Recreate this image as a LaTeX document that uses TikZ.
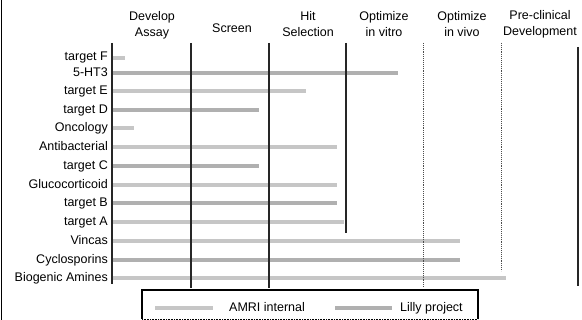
\documentclass[tikz,border=0pt]{standalone}
\usepackage{fontspec}
\setmainfont{Liberation Sans}
\tikzset{
  lbl/.style={anchor=east, inner sep=0pt, text height=9pt, text depth=2.5pt,
    font=\fontsize{12.5}{14}\selectfont},
  head/.style={align=center, inner sep=0pt, font=\fontsize{12.5}{16}\selectfont},
  amri/.style={line width=4.5pt, gray!45},
  lilly/.style={line width=4.5pt, gray!62},
  phase/.style={line width=1.1pt, black!85},
  soft/.style={line width=0.9pt, black!70, densely dotted}
}
\begin{document}
\begin{tikzpicture}[x=1pt, y=-1pt]
  \useasboundingbox (0, 0) rectangle (582, 320);
  \draw[line width=0.8pt] (1, 0) -- (1, 320);

  % phase headings
  \node[head] (hAssay)  at (152, 25) {Develop\\Assay};
  \node[head] (hScreen) at (232, 28) {Screen};
  \node[head] (hHit)    at (308, 24) {Hit\\Selection};
  \node[head] (hVitro)  at (384, 24) {Optimize\\in vitro};
  \node[head] (hVivo)   at (462, 24) {Optimize\\in vivo};
  \node[head] (hPre)    at (540, 24) {Pre-clinical\\Development};

  % programmes
  \node[lbl] (tF)   at (108, 57)  {target F};
  \node[lbl] (tHT)  at (108, 73)  {5-HT3};
  \node[lbl] (tE)   at (108, 91)  {target E};
  \node[lbl] (tD)   at (108, 110) {target D};
  \node[lbl] (tOnc) at (108, 128) {Oncology};
  \node[lbl] (tAb)  at (108, 147) {Antibacterial};
  \node[lbl] (tC)   at (108, 166) {target C};
  \node[lbl] (tGl)  at (108, 185) {Glucocorticoid};
  \node[lbl] (tB)   at (108, 203) {target B};
  \node[lbl] (tA)   at (108, 222) {target A};
  \node[lbl] (tVin) at (108, 241) {Vincas};
  \node[lbl] (tCy)  at (108, 260) {Cyclosporins};
  \node[lbl] (tBio) at (108, 278) {Biogenic Amines};

  \draw[amri]  (112, 58)  -- (125, 58);
  \draw[lilly] (112, 73)  -- (398, 73);
  \draw[amri]  (112, 91)  -- (306, 91);
  \draw[lilly] (112, 110) -- (259, 110);
  \draw[amri]  (112, 128) -- (134, 128);
  \draw[amri]  (112, 147) -- (337, 147);
  \draw[lilly] (112, 166) -- (259, 166);
  \draw[amri]  (112, 185) -- (337, 185);
  \draw[lilly] (112, 203) -- (337, 203);
  \draw[amri]  (112, 222) -- (344, 222);
  \draw[amri]  (112, 241) -- (460, 241);
  \draw[lilly] (112, 260) -- (460, 260);
  \draw[amri]  (112, 278) -- (506, 278);

  % phase boundaries
  \draw[phase] (112, 43) -- (112, 284);
  \draw[phase] (191, 43) -- (191, 288);
  \draw[phase] (269, 43) -- (269, 288);
  \draw[phase] (346, 43) -- (346, 233);
  \draw[soft]  (423, 43) -- (423, 288);
  \draw[soft]  (501, 43) -- (501, 271);
  \draw[phase] (578, 47) -- (578, 286);

  % legend
  \draw[line width=1.1pt] (142, 319) -- (142, 290) -- (478, 290) -- (478, 319);
  \draw[line width=0.6pt, densely dotted] (142, 319) -- (478, 319);
  \draw[amri]  (155, 308) -- (213, 308);
  \node[lbl, anchor=west] (kAmri) at (229, 308) {AMRI internal};
  \draw[lilly] (335, 308) -- (392, 308);
  \node[lbl, anchor=west] (kLilly) at (400, 308) {Lilly project};
\end{tikzpicture}
\end{document}
